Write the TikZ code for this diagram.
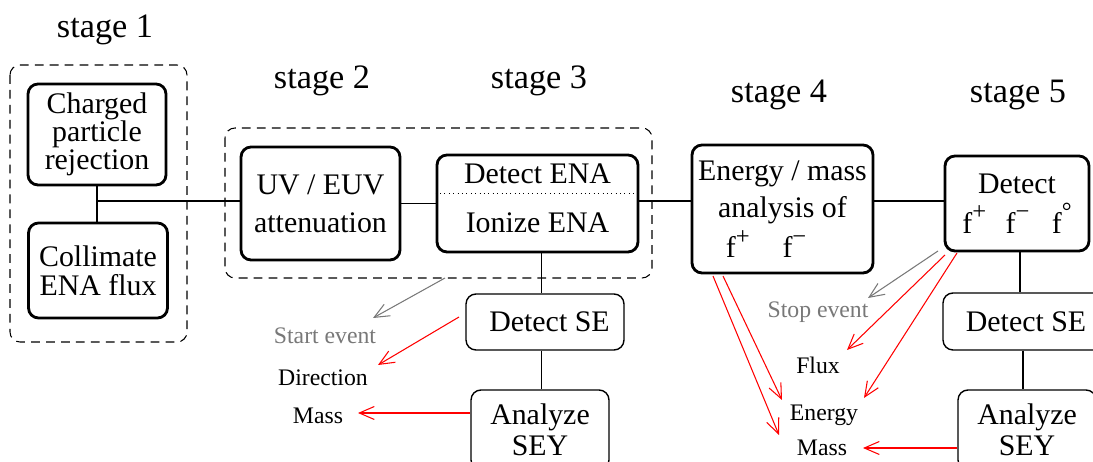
\documentclass[tikz,border=0pt]{standalone}
\usepackage{fontspec}
\setmainfont{Liberation Serif}
\usetikzlibrary{arrows.meta, calc}
\definecolor{EventGray}{RGB}{120, 120, 120}
\definecolor{OutRed}{RGB}{255, 0, 0}
\newcommand{\chargesup}[1]{\raisebox{0.45em}{\fontsize{14}{14}\selectfont #1}}

\begin{document}
\begin{tikzpicture}[
        x=0.02cm, y=-0.02cm,
        box/.style={draw, line width=1.6pt, rounded corners=0.2cm, align=center, inner sep=0pt},
        sebox/.style={draw, line width=0.8pt, rounded corners=0.2cm, align=center, inner sep=0pt, font=\fontsize{17}{20}\selectfont},
        stagelbl/.style={font=\fontsize{19.5}{22}\selectfont},
        outlbl/.style={font=\fontsize{13.5}{15}\selectfont},
        grouping/.style={dashed, dash pattern=on 5pt off 3.5pt, line width=0.6pt, rounded corners=0.2cm},
        link/.style={line width=0.7pt},
        outarrow/.style={line width=0.6pt, -{Straight Barb[length=3mm, width=2.6mm]}}
    ]
        \useasboundingbox (0,0) rectangle (1093,462);

        % stage titles
        \node[stagelbl] (st1) at (105,30) {stage 1};
        \node[stagelbl] (st2) at (322,81) {stage 2};
        \node[stagelbl] (st3) at (539,81) {stage 3};
        \node[stagelbl] (st4) at (779,95) {stage 4};
        \node[stagelbl] (st5) at (1018,95) {stage 5};

        \draw[grouping] (10,65) rectangle (187,342);
        \draw[grouping] (225,128) rectangle (652,278);

        \node[box, minimum width=2.76cm, minimum height=2.02cm, font=\fontsize{17}{16}\selectfont] (chg) at (97,134.5) {Charged\\particle\\rejection};
        \node[box, minimum width=2.78cm, minimum height=1.9cm, font=\fontsize{17}{16.5}\selectfont] (coll) at (98,270.5) {Collimate\\ENA flux};
        \node[box, minimum width=3.18cm, minimum height=2.26cm, font=\fontsize{17}{21.5}\selectfont] (uv) at (320.5,203.5) {UV / EUV\\attenuation};
        \node[box, minimum width=4.02cm, minimum height=1.94cm, text depth=0.22cm, font=\fontsize{17}{28}\selectfont] (det) at (537.5,203.5) {Detect ENA\\Ionize ENA};
        \draw[dotted, line width=0.5pt] ($(det.west)+(0,-10.5)$) -- ($(det.east)+(0,-10.5)$);
        \node[box, minimum width=3.62cm, minimum height=2.56cm, font=\fontsize{17}{21}\selectfont] (ema) at (782.5,209) {Energy / mass\\analysis of\\[2pt]f\chargesup{+}\hspace{1.1em}f\chargesup{−}\hspace*{1.1em}};
        \node[box, minimum width=2.88cm, minimum height=1.9cm, font=\fontsize{17}{22.5}\selectfont] (det5) at (1017,203.5) {Detect\\f\chargesup{+}\hspace{0.4em} f\chargesup{−}\hspace{0.5em} f\chargesup{°}};

        \node[sebox, minimum width=3.16cm, minimum height=1.12cm] (dse3) at (545,322) {\hspace{0.3em}Detect SE};
        \node[sebox, minimum width=2.76cm, minimum height=1.6cm, font=\fontsize{17}{17.5}\selectfont] (sey3) at (540,430) {Analyze\\SEY};
        \node[sebox, minimum width=3.32cm, minimum height=1.14cm] (dse5) at (1026,321.5) {Detect SE};
        \node[sebox, minimum width=2.76cm, minimum height=1.6cm, font=\fontsize{17}{17.5}\selectfont] (sey5) at (1027,430) {Analyze\\SEY};

        % outputs
        \node[outlbl, text=EventGray] (start) at (325,336) {Start event};
        \node[outlbl] (dir) at (323,378) {Direction};
        \node[outlbl] (mass3) at (318,416) {Mass};
        \node[outlbl, text=EventGray] (stop) at (818,312) {Stop event};
        \node[outlbl] (flux) at (818,365) {Flux};
        \node[outlbl] (energy) at (824,415) {Energy};
        \node[outlbl] (mass5) at (822,448) {Mass};

        % signal path
        \coordinate (join) at (98,201);
        \draw[link] (chg.south) -- (chg.south |- coll.north);
        \draw[link] (join) -- (join -| uv.west);
        \draw[link] (uv.east) -- (det.west);
        \draw[link] (det.east |- join) -- (join -| ema.west);
        \draw[link] (join -| ema.east) -- (join -| det5.west);
        \draw[link] ($(det.south)+(4,0)$) -- ($(det.south |- dse3.north)+(4,0)$);
        \draw[link] ($(det.south |- dse3.south)+(4,0)$) -- ($(det.south |- sey3.north)+(4,0)$);
        \draw[link] ($(det5.south)+(3,0)$) -- ($(det5.south |- dse5.north)+(3,0)$);
        \draw[link] ($(det5.south |- dse5.south)+(6,0)$) -- ($(det5.south |- sey5.north)+(6,0)$);

        \coordinate (a1s) at (445,278);  \coordinate (a1e) at (373,318);
        \coordinate (a2s) at (459,317);  \coordinate (a2e) at (378,365);
        \coordinate (a3e) at (358,413);
        \coordinate (b1s) at (938,251);  \coordinate (b1e) at (868,298);
        \coordinate (b2s) at (945,255);  \coordinate (b2e) at (847,350);
        \coordinate (b3s) at (957,253);  \coordinate (b3e) at (864,398);
        \coordinate (c1s) at (713,276);  \coordinate (c1e) at (779,435);
        \coordinate (c2s) at (723,276);  \coordinate (c2e) at (782,400);
        \coordinate (c3e) at (863,448);

        \draw[outarrow, EventGray] (a1s) -- (a1e);
        \draw[outarrow, OutRed] (a2s) -- (a2e);
        \draw[outarrow, OutRed] (sey3.west |- a3e) -- (a3e);
        \draw[outarrow, EventGray] (b1s) -- (b1e);
        \draw[outarrow, OutRed] (b2s) -- (b2e);
        \draw[outarrow, OutRed] (b3s) -- (b3e);
        \draw[outarrow, OutRed] (c1s) -- (c1e);
        \draw[outarrow, OutRed] (c2s) -- (c2e);
        \draw[outarrow, OutRed] (sey5.west |- c3e) -- (c3e);
    \end{tikzpicture}
\end{document}
